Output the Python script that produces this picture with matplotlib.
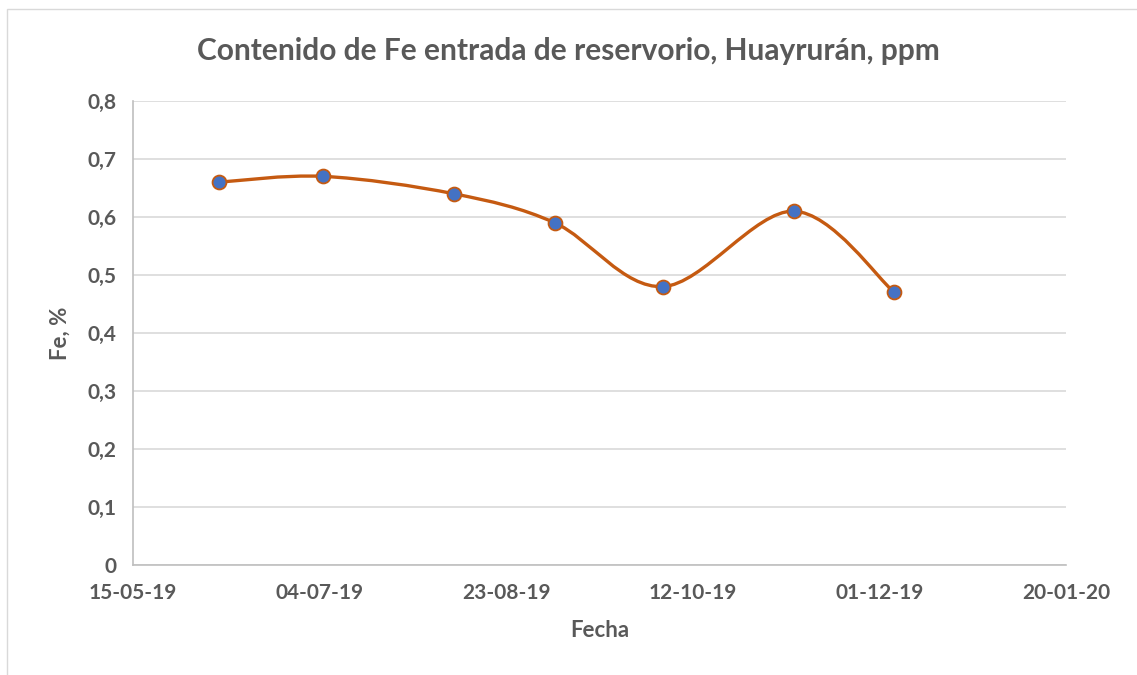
import matplotlib
matplotlib.use("Agg")
import matplotlib.pyplot as plt
import matplotlib.dates as mdates
from matplotlib.path import Path
from matplotlib.patches import PathPatch, Rectangle
from matplotlib.ticker import FuncFormatter
import numpy as np
import datetime as dt

# data
fechas = ["2019-06-07", "2019-07-05", "2019-08-09", "2019-09-05",
          "2019-10-04", "2019-11-08", "2019-12-05"]
fe = [0.66, 0.67, 0.64, 0.59, 0.48, 0.61, 0.47]

x_ticks = ["2019-05-15", "2019-07-04", "2019-08-23", "2019-10-12",
           "2019-12-01", "2020-01-20"]
y_ticks = [0, 0.1, 0.2, 0.3, 0.4, 0.5, 0.6, 0.7, 0.8]

title = "Contenido de Fe entrada de reservorio, Huayrurán, ppm"
gray = "#595959"
line_c = "#C55A11"
marker_c = "#4472C4"

plt.rcParams["font.family"] = ["Lato", "DejaVu Sans"]
plt.rcParams["font.weight"] = "bold"

x = mdates.date2num([dt.date.fromisoformat(d) for d in fechas])
y = np.array(fe)

fig = plt.figure(figsize=(11.37, 6.75), dpi=100)
ax = fig.add_axes([0.117, 0.163, 0.8205, 0.6874])

# excel style smoothed line (catmull-rom as cubic bezier)
pts = np.column_stack([x, y])
verts = [pts[0]]
codes = [Path.MOVETO]
n = len(pts)
for i in range(n - 1):
    p0 = pts[i - 1] if i > 0 else pts[i]
    p1 = pts[i]
    p2 = pts[i + 1]
    p3 = pts[i + 2] if i + 2 < n else pts[i + 1]
    c1 = p1 + (p2 - p0) / 6
    c2 = p2 - (p3 - p1) / 6
    verts += [c1, c2, p2]
    codes += [Path.CURVE4] * 3
ax.add_patch(PathPatch(Path(verts, codes), fill=False, edgecolor=line_c,
                       lw=2.4, zorder=3, capstyle="round"))
ax.plot(x, y, ls="none", marker="o", ms=10, mfc=marker_c, mec=line_c,
        mew=1.3, zorder=4)

xt = mdates.date2num([dt.date.fromisoformat(d) for d in x_ticks])
ax.set_xlim(xt[0], xt[-1])
ax.set_ylim(0, 0.8)
ax.set_xticks(xt)
ax.xaxis.set_major_formatter(mdates.DateFormatter("%d-%m-%y"))
ax.set_yticks(y_ticks)
ax.yaxis.set_major_formatter(FuncFormatter(lambda v, p: f"{v:g}".replace(".", ",")))

ax.grid(axis="y", color="#d9d9d9", lw=1.2)
ax.set_axisbelow(True)
for s in ["top", "right"]:
    ax.spines[s].set_visible(False)
ax.spines["left"].set_color("#bfbfbf")
ax.spines["bottom"].set_color("#bfbfbf")
ax.spines["left"].set_linewidth(1.2)
ax.spines["bottom"].set_linewidth(1.2)
ax.tick_params(length=0, labelsize=15, labelcolor=gray)
ax.tick_params(axis="x", pad=13)
ax.tick_params(axis="y", pad=12)

ax.set_xlabel("Fecha", fontsize=16, color=gray, labelpad=12, fontweight="bold")
ax.set_ylabel("Fe, %", fontsize=16, color=gray, labelpad=12, fontweight="bold")
fig.text(0.5, 0.925, title, ha="center", va="center", fontsize=21.5,
         color=gray, fontweight="bold")

fig.patches.append(Rectangle((7 / 1137, -0.01), 1.0, 1 - 9 / 675 + 0.01,
                             transform=fig.transFigure, fill=False,
                             edgecolor="#d9d9d9", lw=1))

fig.savefig("out.png", dpi=100)
